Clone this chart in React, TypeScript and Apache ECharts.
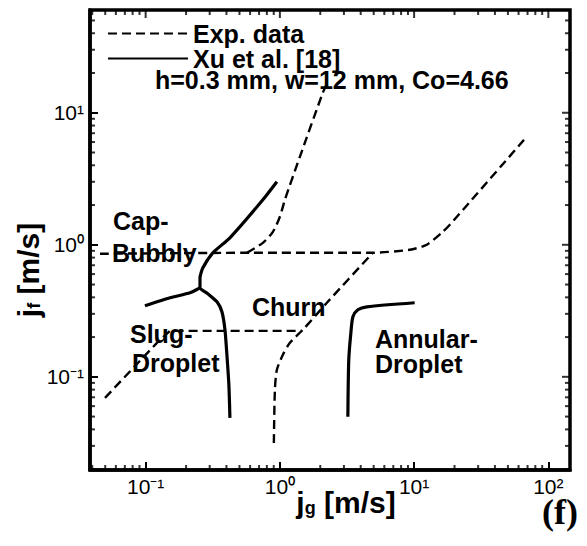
import React, { useEffect, useRef } from 'react';
import * as echarts from 'echarts';

// ---- axis ticks ----
const xMajor = [0.1, 1, 10, 100];
const xMinor = [0.04, 0.05, 0.06, 0.07, 0.08, 0.09, 0.2, 0.3, 0.4, 0.5, 0.6, 0.7, 0.8, 0.9, 2, 3, 4, 5, 6, 7, 8, 9, 20, 30, 40, 50, 60, 70, 80, 90];
const yMajor = [0.1, 1, 10];
const yMinor = [0.02, 0.03, 0.04, 0.05, 0.06, 0.07, 0.08, 0.09, 0.2, 0.3, 0.4, 0.5, 0.6, 0.7, 0.8, 0.9, 2, 3, 4, 5, 6, 7, 8, 9, 20, 30, 40, 50];

// ---- Exp. data (dashed) ----
const expBubblyX = [0.0457, 0.598, 4.93, 9.29, 12.43, 16.36, 18.45, 69.0];
const expBubblyY = [0.855, 0.87, 0.87, 0.917, 1.0, 1.254, 1.417, 6.58];
const expCapX = [0.568, 0.747, 0.887, 1.0, 1.089, 1.409, 2.09, 2.24];
const expCapY = [0.87, 1.035, 1.254, 1.63, 2.19, 4.64, 14.2, 16.6];
const expSlugX = [0.0498, 0.1214, 0.152, 1.458];
const expSlugY = [0.0693, 0.181, 0.223, 0.223];
const expAnnularX = [0.902, 0.918, 0.95, 1.053, 1.187, 1.483, 2.24, 4.93];
const expAnnularY = [0.0316, 0.0797, 0.113, 0.147, 0.181, 0.227, 0.364, 0.87];

// ---- Xu et al. [18] (solid) ----
const xuMainX = [0.95, 0.747, 0.4245, 0.317, 0.267, 0.254, 0.254, 0.291, 0.34, 0.37, 0.39, 0.403, 0.417, 0.4245];
const xuMainY = [3.0, 2.19, 1.13, 0.87, 0.669, 0.562, 0.472, 0.425, 0.37, 0.311, 0.227, 0.147, 0.0869, 0.0489];
const xuSlugX = [0.0988, 0.152, 0.214, 0.254];
const xuSlugY = [0.345, 0.397, 0.433, 0.472];
const xuAnnularX = [3.21, 3.26, 3.38, 3.5, 3.81, 4.44, 10.1];
const xuAnnularY = [0.0498, 0.1345, 0.2156, 0.285, 0.322, 0.339, 0.364];

const X_MIN = 0.0385;
const X_MAX = 145;
const Y_MIN = 0.0197;
const Y_MAX = 60;

const EXP = 'Exp. data';
const XU = 'Xu et al. [18]';
const FONT = '"Liberation Sans", Arial, Helvetica, sans-serif';

const pairs = (xs: number[], ys: number[]) => xs.map((x, i) => [x, ys[i]]);

const SUP: Record<string, string> = { '-': '\u207B', '0': '\u2070', '1': '\u00B9', '2': '\u00B2', '3': '\u00B3' };
const supLabel = (v: number) => {
  const l = Math.log10(v);
  const e = Math.round(l);
  if (Math.abs(l - e) > 1e-6) return '';
  return '10' + String(e).split('').map((c) => SUP[c] || c).join('');
};

export default function App() {
  const ref = useRef<HTMLDivElement>(null);
  useEffect(() => {
    if (!ref.current) return;
    const chart = echarts.init(ref.current, undefined, { renderer: 'svg' });
    const tickMarks = (edge: string, vals: number[], len: number) => {
      const horizontal = edge === 'bottom' || edge === 'top';
      const off = len / 2;
      return {
        type: 'scatter',
        clip: false,
        symbol: 'rect',
        symbolSize: horizontal ? [2, len] : [len, 2],
        symbolOffset:
          edge === 'bottom' ? [0, -off] : edge === 'top' ? [0, off] : edge === 'left' ? [off, 0] : [-off, 0],
        itemStyle: { color: '#000' },
        data: vals.map((v) =>
          edge === 'bottom' ? [v, Y_MIN] : edge === 'top' ? [v, Y_MAX] : edge === 'left' ? [X_MIN, v] : [X_MAX, v]
        ),
      };
    };
    const dashed = { color: '#000', width: 2.4, type: [9, 5] };
    const solid = { color: '#000', width: 3.2, type: 'solid' };
    const mkSeries = (name: string, xs: number[], ys: number[], ls: any, smooth: number) => ({
      type: 'line',
      name,
      data: pairs(xs, ys),
      symbol: 'none',
      showSymbol: false,
      smooth,
      lineStyle: ls,
      itemStyle: { color: '#000' },
    });
    const regionText = (text: string, x: number, y: number) => ({
      type: 'text',
      x,
      y,
      style: { text, fontFamily: FONT, fontSize: 25, fontWeight: 'bold', fill: '#000', align: 'left', verticalAlign: 'middle' },
    });
    const titleRich = {
      j: { fontFamily: FONT, fontSize: 30, fontWeight: 'bold', lineHeight: 30, fill: '#000' },
      s: { fontFamily: FONT, fontSize: 18, fontWeight: 'bold', lineHeight: 10, verticalAlign: 'bottom', fill: '#000' },
      t: { fontFamily: FONT, fontSize: 30, fontWeight: 'bold', lineHeight: 30, fill: '#000' },
    };
    const labelStyle = { show: true, margin: 6, formatter: supLabel, showMinLabel: false, showMaxLabel: false, fontFamily: FONT, fontSize: 21, color: '#000' };
    chart.setOption({
      animation: false,
      grid: { left: 90, top: 10, right: 17, bottom: 76, show: true, borderColor: '#000', borderWidth: 3.5 },
      xAxis: [
        {
          type: 'log', logBase: 10, min: X_MIN, max: X_MAX, position: 'bottom',
          splitLine: { show: false },
          axisLine: { show: true, lineStyle: { color: '#000', width: 3.5 } },
          axisTick: { show: true, inside: true, length: 8, lineStyle: { color: '#000', width: 2 } },
          axisLabel: labelStyle,
        },
      ],
      yAxis: [
        {
          type: 'log', logBase: 10, min: Y_MIN, max: Y_MAX, position: 'left',
          splitLine: { show: false },
          axisLine: { show: true, lineStyle: { color: '#000', width: 3.5 } },
          axisTick: { show: true, inside: true, length: 8, lineStyle: { color: '#000', width: 2 } },
          axisLabel: labelStyle,
        },
      ],
      legend: {
        show: true,
        orient: 'vertical',
        left: 107,
        top: 21,
        padding: 0,
        itemGap: 0,
        itemWidth: 80,
        itemHeight: 14,
        data: [EXP, XU],
        selectedMode: false,
        itemStyle: { opacity: 0 },
        textStyle: { fontFamily: FONT, fontSize: 25, fontWeight: 'bold', color: '#000', lineHeight: 24 },
      },
      series: [
        mkSeries(EXP, expBubblyX, expBubblyY, dashed, 0.2),
        mkSeries(EXP, expCapX, expCapY, dashed, 0.25),
        mkSeries(EXP, expSlugX, expSlugY, dashed, 0),
        mkSeries(EXP, expAnnularX, expAnnularY, dashed, 0.25),
        mkSeries(XU, xuMainX, xuMainY, solid, 0.2),
        mkSeries(XU, xuSlugX, xuSlugY, solid, 0.2),
        mkSeries(XU, xuAnnularX, xuAnnularY, solid, 0.25),
        tickMarks('bottom', xMinor, 5),
        tickMarks('top', xMajor, 8),
        tickMarks('top', xMinor, 5),
        tickMarks('left', yMinor, 5),
        tickMarks('right', yMajor, 8),
        tickMarks('right', yMinor, 5),
      ],
      graphic: [
        {
          type: 'text',
          x: 155,
          y: 80,
          style: { text: 'h=0.3 mm, w=12 mm, Co=4.66', fontFamily: FONT, fontSize: 25, fontWeight: 'bold', fill: '#000', align: 'left', verticalAlign: 'middle' },
        },
        regionText('Cap-', 113, 221),
        regionText('Bubbly', 112, 253),
        regionText('Churn', 252, 307),
        regionText('Slug-', 130, 334),
        regionText('Droplet', 132, 363),
        regionText('Annular-', 375, 339),
        regionText('Droplet', 375, 364),
        {
          type: 'text',
          x: 346,
          y: 502,
          style: { text: '{j|j}{s|g}{t| [m/s]}', align: 'center', verticalAlign: 'middle', rich: titleRich },
        },
        {
          type: 'text',
          x: 28,
          y: 270,
          rotation: Math.PI / 2,
          style: { text: '{j|j}{s|f}{t| [m/s]}', align: 'center', verticalAlign: 'middle', rich: titleRich },
        },
        {
          type: 'text',
          x: 560,
          y: 512,
          style: { text: '(f)', fontFamily: '"Liberation Serif", "Times New Roman", serif', fontSize: 36, fontWeight: 'bold', fill: '#000', align: 'center', verticalAlign: 'middle' },
        },
      ],
    });
    return () => chart.dispose();
  }, []);
  return <div ref={ref} style={{ width: 587, height: 546, position: 'absolute', left: 0, top: 0, background: '#fff' }} />;
}
